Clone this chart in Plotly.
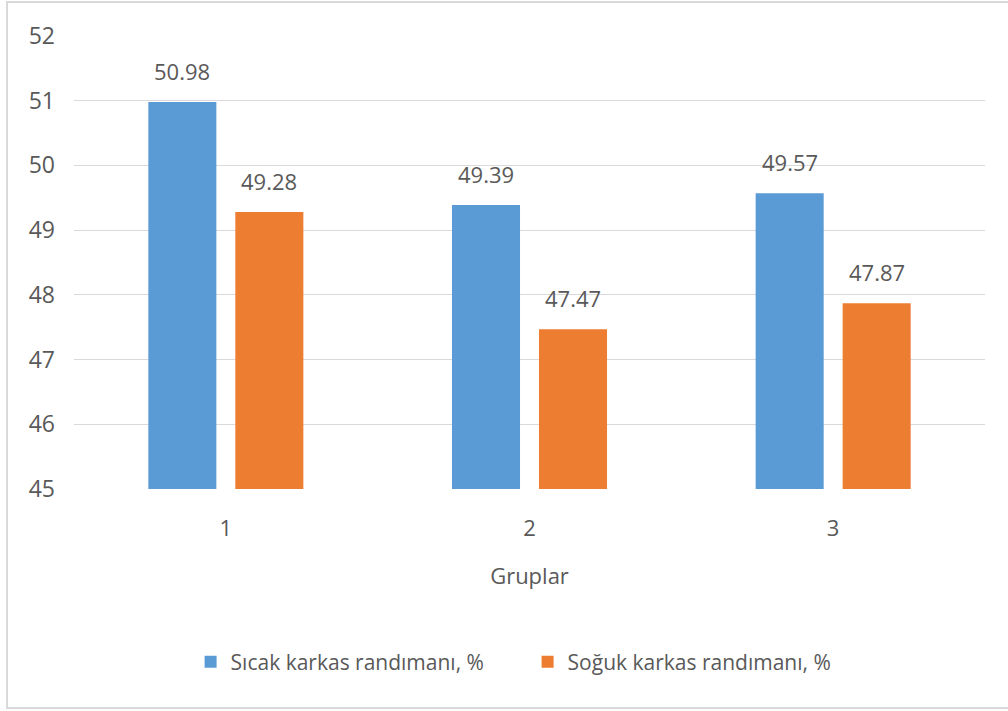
import plotly.graph_objects as go

groups = ["1", "2", "3"]
sicak = [50.98, 49.39, 49.57]
soguk = [49.28, 47.47, 47.87]
series_names = ["Sıcak karkas randımanı, %", "Soğuk karkas randımanı, %"]
colors = ["#5b9bd5", "#ed7d31"]
y_ticks = [45, 46, 47, 48, 49, 50, 51, 52]

FONT = "Open Sans"
GRAY = "#595959"

fig = go.Figure()
for name, vals, col in zip(series_names, [sicak, soguk], colors):
    fig.add_trace(go.Bar(x=groups, y=vals, name=name, marker_color=col,
                         marker_line_width=0))

# value labels above each bar (category index used as x position)
offsets = [-43.5, 43.5]
annotations = []
for vals, dx in zip([sicak, soguk], offsets):
    for i, v in enumerate(vals):
        annotations.append(dict(x=i, y=v, xref="x", yref="y", text=f"{v:.2f}",
                                showarrow=False, xshift=dx, yshift=14,
                                yanchor="bottom",
                                font=dict(family=FONT, size=22, color=GRAY)))

fig.update_layout(
    width=1008, height=711,
    margin=dict(l=74, r=23, t=36, b=222),
    paper_bgcolor="white", plot_bgcolor="white",
    barmode="group", bargap=0.427, bargroupgap=0.218,
    font=dict(family=FONT, size=20, color=GRAY),
    annotations=annotations,
    showlegend=True,
    legend=dict(orientation="h", x=0.128, xanchor="left", y=-0.382,
                yanchor="middle", entrywidth=292,
                font=dict(family=FONT, size=21, color=GRAY),
                traceorder="normal"),
    xaxis=dict(type="category", range=[-0.5, 2.5], showgrid=False,
               showline=False, ticks="", ticklabelstandoff=24,
               tickfont=dict(size=22),
               title=dict(text="Gruplar", standoff=27,
                          font=dict(family=FONT, size=22, color=GRAY))),
    yaxis=dict(range=[45, 52], tickvals=y_ticks, showgrid=True,
               gridcolor="#d9d9d9", gridwidth=1, zeroline=False,
               showline=False, ticks="", ticklabelstandoff=18,
               tickfont=dict(size=23)),
)

# light outer frame around the chart
fig.add_shape(type="rect", xref="paper", yref="paper",
              x0=-0.0735, x1=1.04, y0=-0.4834, y1=1.075,
              line=dict(color="#d9d9d9", width=2), layer="below")

fig.write_html("out.html")
